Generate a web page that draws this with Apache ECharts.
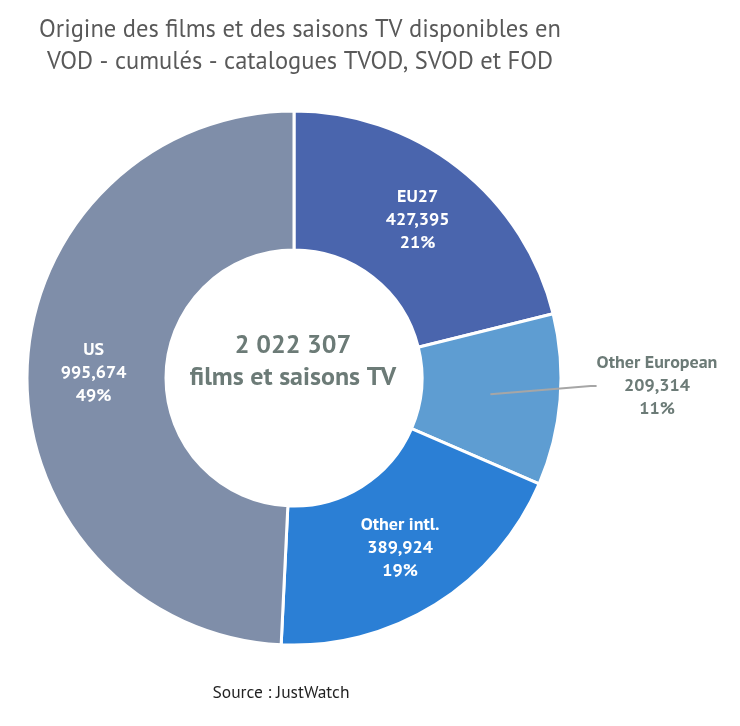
<!DOCTYPE html>
<html>
<head>
<meta charset="utf-8">
<script src="https://cdn.jsdelivr.net/npm/echarts@6/dist/echarts.min.js"></script>
<style>
  html, body { margin: 0; padding: 0; background: #fff; }
  #main { width: 740px; height: 726px; }
</style>
</head>
<body>
<div id="main"></div>
<script>
// data
var categories = ['EU27', 'Other European', 'Other intl.', 'US'];
var values = [427395, 209314, 389924, 995674];
var colors = ['#4a65ad', '#5e9dd2', '#2b7fd5', '#7f8ea9'];
var outsideLabel = 'Other European';

var FONT = '"PT Sans", "Liberation Sans Narrow", "Open Sans", sans-serif';

var total = 0;
for (var i = 0; i < values.length; i++) total += values[i];
function spaced(n) { return String(n).replace(/\B(?=(\d{3})+(?!\d))/g, ' '); }
function commas(n) { return String(n).replace(/\B(?=(\d{3})+(?!\d))/g, ','); }

var data = [];
var ghost = [];
for (i = 0; i < categories.length; i++) {
  var outside = categories[i] === outsideLabel;
  data.push({
    name: categories[i],
    value: values[i],
    itemStyle: { color: colors[i] },
    label: { show: !outside }
  });
  ghost.push({
    name: categories[i],
    value: values[i],
    itemStyle: { color: 'rgba(0,0,0,0)' },
    label: { show: outside },
    labelLine: { show: outside }
  });
}

var chartDom = document.getElementById('main');
var myChart = echarts.init(chartDom);
var option = {
  backgroundColor: '#fff',
  animation: false,
  title: [
    {
      text: 'Origine des films et des saisons TV disponibles en\nVOD - cumulés - catalogues TVOD, SVOD et FOD',
      left: 295, top: 9, textAlign: 'center',
      textStyle: { fontFamily: FONT, fontSize: 24.5, fontWeight: 'normal', color: '#595959', lineHeight: 32 }
    },
    {
      text: spaced(total) + '\nfilms et saisons TV',
      left: 288, top: 325, textAlign: 'center',
      textStyle: { fontFamily: FONT, fontSize: 26, fontWeight: 'bold', color: '#6c7b77', lineHeight: 32 }
    },
    {
      text: 'Source : JustWatch',
      left: 276, top: 679, textAlign: 'center',
      textStyle: { fontFamily: FONT, fontSize: 17.5, fontWeight: 'normal', color: '#222' }
    }
  ],
  series: [
    {
      type: 'pie',
      center: [294, 378],
      radius: [128, 267],
      startAngle: 90,
      clockwise: true,
      itemStyle: { borderColor: '#fff', borderWidth: 3 },
      label: {
        position: 'inside',
        fontFamily: FONT, fontSize: 18, fontWeight: 'bold', color: '#fff', lineHeight: 23,
        formatter: function (p) { return p.name + '\n' + commas(p.value) + '\n' + p.percent + '%'; }
      },
      labelLine: { show: false },
      percentPrecision: 0,
      data: data
    },
    {
      type: 'pie',
      silent: true,
      z: 5,
      center: [294, 378],
      radius: [0, 197],
      startAngle: 90,
      clockwise: true,
      itemStyle: { borderWidth: 0 },
      label: {
        position: 'outside',
        fontFamily: FONT, fontSize: 18, fontWeight: 'bold', color: '#6c7b77', lineHeight: 23,
        formatter: function (p) { return p.name + '\n' + commas(p.value) + '\n' + p.percent + '%'; }
      },
      labelLayout: function (p) {
        return { x: 657, y: 386, align: 'center', verticalAlign: 'middle' };
      },
      labelLine: { length: 90, length2: 6, smooth: false, lineStyle: { color: '#a6a6a6', width: 2 } },
      percentPrecision: 0,
      data: ghost
    }
  ]
};
option && myChart.setOption(option);
</script>
</body>
</html>
